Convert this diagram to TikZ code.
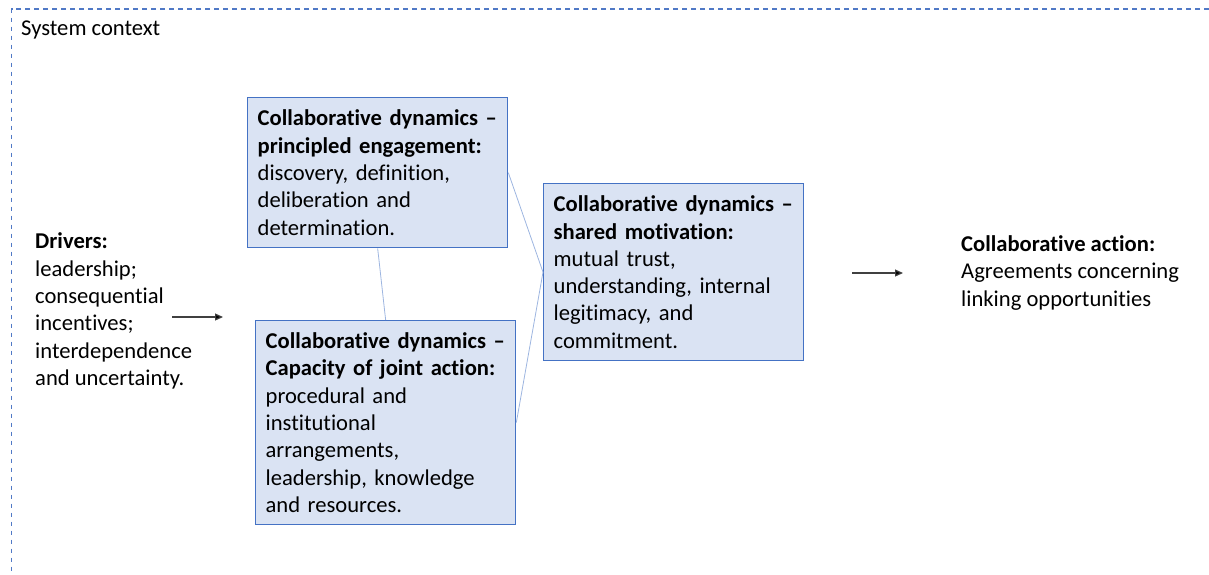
\documentclass[tikz,border=0pt]{standalone}
\usepackage{fontspec}
\setmainfont{Carlito}[Ligatures=NoCommon]
\usetikzlibrary{arrows.meta}
\definecolor{boxfill}{HTML}{DAE3F3}
\definecolor{boxline}{HTML}{4472C4}
\definecolor{linkline}{HTML}{9DB5E0}
\definecolor{framecol}{HTML}{5079C6}
\begin{document}
\begin{tikzpicture}[x=1pt,y=-1pt,
  txt/.style={font=\fontsize{22.6}{27.3}\selectfont, align=left, inner sep=0pt},
  dynbox/.style={txt, draw=boxline, line width=1.3pt, fill=boxfill,
    text width=240pt, inner xsep=10pt, inner ysep=0pt, anchor=north west},
  link/.style={draw=linkline, line width=0.8pt},
  flow/.style={draw=black!75, line width=1.2pt, -{Triangle[length=8pt,width=7pt,fill=black]}}
]
\useasboundingbox (0,0) rectangle (1209,574);

% dashed system boundary: top and left sides, running off the page
\coordinate (frTR) at (1209,9);
\coordinate (frTL) at (11.5,9);
\coordinate (frBL) at (11.5,574);
\draw[framecol, line width=1.4pt, dash pattern=on 4.8pt off 4.2pt] (frTR) -- (frTL) -- (frBL);
\node[txt, anchor=base west] (ctx) at (21,35) {System context};

% drivers
\node[txt, anchor=west] (drv) at (35,311)
  {\textbf{Drivers:}\\leadership;\\consequential\\incentives;\\interdependence\\and uncertainty.};

% collaborative dynamics
\node[dynbox, minimum height=150pt] (pe) at (247,97)
  {\textbf{Collaborative dynamics –}\\\textbf{principled engagement:}\\discovery, definition,\\deliberation and\\determination.};
\node[dynbox, minimum height=204pt] (cj) at (255,320)
  {\textbf{Collaborative dynamics –}\\\textbf{Capacity of joint action:}\\procedural and\\institutional\\arrangements,\\leadership, knowledge\\and resources.};
\node[dynbox, minimum height=177pt] (sm) at (543,183)
  {\textbf{Collaborative dynamics –}\\\textbf{shared motivation:}\\mutual trust,\\understanding, internal\\legitimacy, and\\commitment.};

% outcome
\node[txt, anchor=west] (act) at (961,273)
  {\textbf{Collaborative action:}\\Agreements concerning\\linking opportunities};

% links between the dynamics
\draw[link] (pe.south) -- (cj.north);
\draw[link] (pe.east) -- (sm.west);
\draw[link] (cj.east) -- (sm.west);

% flow arrows
\coordinate (f1s) at (172,317);
\coordinate (f1e) at (223,317);
\coordinate (f2s) at (852,273);
\coordinate (f2e) at (903,273);
\draw[flow] (f1s) -- (f1e);
\draw[flow] (f2s) -- (f2e);
\end{tikzpicture}
\end{document}
